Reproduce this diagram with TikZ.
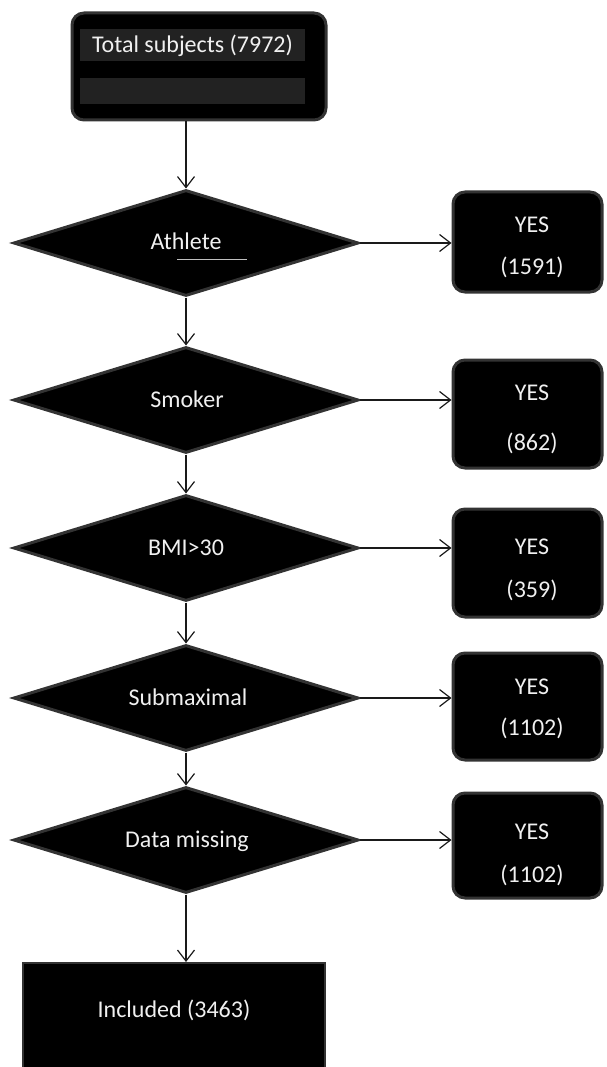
\documentclass[tikz,border=0pt]{standalone}
\usepackage{fontspec}
\setmainfont{Carlito}
\usetikzlibrary{shapes.geometric,arrows.meta}
\definecolor{edgegrey}{HTML}{333333}
\definecolor{bargrey}{HTML}{222222}
\definecolor{txtwhite}{HTML}{F0F0F0}
\definecolor{linegrey}{HTML}{1A1A1A}
\begin{document}
\begin{tikzpicture}[x=1pt,y=-1pt,
  dia/.style={diamond, fill=black, draw=edgegrey, line width=3pt,
    minimum width=345pt, minimum height=106pt, inner sep=0pt},
  yesbox/.style={rectangle, rounded corners=12pt, fill=black, draw=edgegrey,
    line width=3pt, minimum width=149pt, inner sep=0pt},
  lbl/.style={text=txtwhite, font=\fontsize{24}{29}\selectfont, inner sep=0pt,
    text height=15.5pt, text depth=0pt},
  bar/.style={rectangle, fill=bargrey, inner sep=0pt},
  conn/.style={draw=linegrey, line width=1.2pt,
    -{Straight Barb[length=11pt,width=17pt,line width=1.2pt]}}
]
\useasboundingbox (0,0) rectangle (606,1067);
\clip (0,0) rectangle (606,1067);

% top box
\node[yesbox, minimum width=254pt, minimum height=107pt] (top) at (199,66.5) {};
\node[bar, minimum width=225pt, minimum height=32pt] (bar1) at (192.5,45) {};
\node[bar, minimum width=225pt, minimum height=26pt] (bar2) at (192.5,91) {};
\node[lbl] (toptxt) at (192.5,45) {Total subjects (7972)};

% diamonds
\node[dia] (d1) at (186,243) {};
\node[lbl] (t1) at (186,242) {Athlete};
\draw[draw=white!75!black, line width=0.8pt] (177,259) -- (247,259);
\node[dia] (d2) at (186,400) {};
\node[lbl] (t2) at (187,400) {Smoker};
\node[dia] (d3) at (186,548) {};
\node[lbl] (t3) at (186,548) {BMI>30};
\node[dia] (d4) at (186,698) {};
\node[lbl] (t4) at (188,698) {Submaximal};
\node[dia] (d5) at (186,840) {};
\node[lbl] (t5) at (187,840) {Data missing};

% YES boxes
\node[yesbox, minimum height=100pt] (b1) at (527.5,242) {};
\node[lbl] (y1) at (532,225) {YES};
\node[lbl] (n1) at (532,267) {(1591)};
\node[yesbox, minimum height=108pt] (b2) at (527.5,414) {};
\node[lbl] (y2) at (532,393) {YES};
\node[lbl] (n2) at (532,443) {(862)};
\node[yesbox, minimum height=108pt] (b3) at (527.5,563) {};
\node[lbl] (y3) at (532,547) {YES};
\node[lbl] (n3) at (532,590) {(359)};
\node[yesbox, minimum height=107pt] (b4) at (527.5,706.5) {};
\node[lbl] (y4) at (532,687) {YES};
\node[lbl] (n4) at (532,728) {(1102)};
\node[yesbox, minimum height=105pt] (b5) at (527.5,845.5) {};
\node[lbl] (y5) at (532,832) {YES};
\node[lbl] (n5) at (532,875) {(1102)};

% bottom box
\node[rectangle, fill=black, draw=edgegrey, line width=2pt, minimum width=302pt,
  minimum height=120pt, inner sep=0pt] (inc) at (174,1023) {};
\node[lbl] (inctxt) at (174,1010) {Included (3463)};

% vertical connectors
\draw[conn] (top.south -| d1.north) -- (d1.north);
\draw[conn] (d1.south) -- (d2.north);
\draw[conn] (d2.south) -- (d3.north);
\draw[conn] (d3.south) -- (d4.north);
\draw[conn] (d4.south) -- (d5.north);
\draw[conn] (d5.south) -- (d5.south |- inc.north);

% horizontal connectors
\draw[conn] (d1.east) -- (d1.east -| b1.west);
\draw[conn] (d2.east) -- (d2.east -| b2.west);
\draw[conn] (d3.east) -- (d3.east -| b3.west);
\draw[conn] (d4.east) -- (d4.east -| b4.west);
\draw[conn] (d5.east) -- (d5.east -| b5.west);
\end{tikzpicture}
\end{document}
